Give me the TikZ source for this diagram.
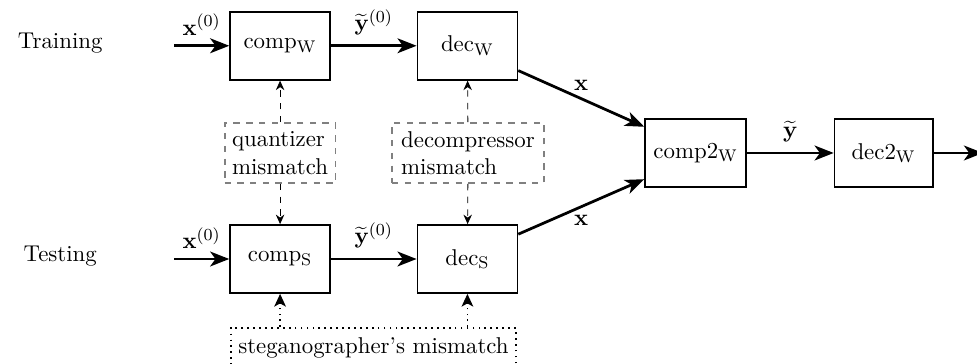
\documentclass[tikz,border=0pt]{standalone}
\usetikzlibrary{arrows.meta}
\begin{document}
\begin{tikzpicture}[
            every node/.style={font=\fontsize{10.8}{13}\selectfont},
            blk/.style={draw,thick,minimum width=1.66cm,minimum height=1.13cm,inner sep=1pt},
            mism/.style={draw=gray,dashed,thick,align=left,minimum height=1cm,inner sep=2pt},
            stegbox/.style={draw,dotted,thick,minimum width=4.73cm,minimum height=0.68cm},
            flow/.style={line width=1.3pt,-{Stealth[length=9pt,width=7pt,inset=2.5pt]}},
            dsh/.style={dashed,-{Stealth[length=4.5pt,width=4pt]}},
            dtt/.style={dotted,thick,-{Stealth[length=6pt,width=5.5pt,inset=1.5pt]}}]
            \useasboundingbox (0,0) rectangle (16.22,6.04);
            \node (train) at (1.00,5.33) {Training};
            \node (test) at (1.00,1.78) {Testing};
            \node[blk] (compW) at (4.65,5.28) {comp$_{\mathrm{W}}$};
            \node[blk] (decW) at (7.76,5.28) {dec$_{\mathrm{W}}$};
            \node[blk] (compS) at (4.65,1.74) {comp$_{\mathrm{S}}$};
            \node[blk] (decS) at (7.76,1.74) {dec$_{\mathrm{S}}$};
            \node[mism,minimum width=1.84cm] (quant) at (4.65,3.50) {quantizer\\mismatch};
            \node[mism,minimum width=2.52cm] (decomp) at (7.77,3.50) {decompressor\\mismatch};
            \node[blk,minimum width=1.68cm] (comp2) at (11.55,3.50) {comp2$_{\mathrm{W}}$};
            \node[blk,minimum width=1.63cm] (dec2) at (14.67,3.50) {dec2$_{\mathrm{W}}$};
            \node[stegbox,anchor=north] (steg) at (6.20,0.61) {steganographer's mismatch};
            \coordinate (inW) at (2.89,5.28);
            \coordinate (inS) at (2.89,1.74);
            \coordinate (out) at (16.32,3.50);
            % main flow
            \draw[flow] (inW) -- node[above=1pt] {$\mathbf{x}^{(0)}$} (compW);
            \draw[flow] (compW) -- node[above=1pt] {$\widetilde{\mathbf{y}}^{(0)}$} (decW);
            \draw[flow] (inS) -- node[above=1pt] {$\mathbf{x}^{(0)}$} (compS);
            \draw[flow] (compS) -- node[above=1pt] {$\widetilde{\mathbf{y}}^{(0)}$} (decS);
            \draw[flow] (decW.-26) -- node[above] {$\mathbf{x}$} (comp2.153);
            \draw[flow] (decS.26) -- node[below] {$\mathbf{x}$} (comp2.207);
            \draw[flow] (comp2) -- node[above=1pt] {$\widetilde{\mathbf{y}}$} (dec2);
            \draw[flow] (dec2) -- (out);
            % mismatches
            \draw[dsh] (quant) -- (compW);
            \draw[dsh] (quant) -- (compS);
            \draw[dsh] (decomp) -- (decW);
            \draw[dsh] (decomp) -- (decS);
            \draw[dtt] (compS.south |- steg.north) -- (compS);
            \draw[dtt] (decS.south |- steg.north) -- (decS);
        \end{tikzpicture}
\end{document}
